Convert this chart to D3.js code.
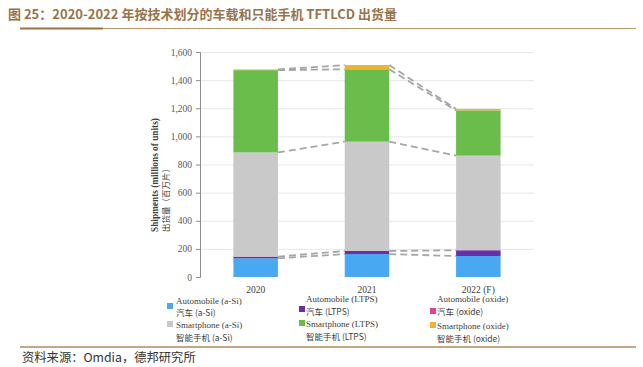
<!DOCTYPE html>
<html>
<head>
<meta charset="utf-8">
<script src="https://cdn.jsdelivr.net/npm/d3@7"></script>
<style>
  body { margin: 0; background: #fff; }
  svg { display: block; }
</style>
</head>
<body>
<div id="chart"></div>
<script>
// Set dimensions
const width = 643,
    height = 367;

// Data (millions of units)
const years = ["2020", "2021", "2022 (F)"];
const autoASi = [133, 163, 149];
const autoLTPS = [12, 22, 41];
const autoOxide = [0, 0, 1];
const phoneASi = [741, 777, 672];
const phoneLTPS = [585, 515, 322];
const phoneOxide = [5, 30, 10];
const yTicks = [0, 200, 400, 600, 800, 1000, 1200, 1400, 1600];

const seriesNames = ["autoASi", "autoLTPS", "autoOxide", "phoneASi", "phoneLTPS", "phoneOxide"];
const seriesData = { autoASi, autoLTPS, autoOxide, phoneASi, phoneLTPS, phoneOxide };
const colors = {
    autoASi: "#48a8f2",
    autoLTPS: "#6a2fa6",
    autoOxide: "#e2418d",
    phoneASi: "#c9c9c9",
    phoneLTPS: "#6abd4b",
    phoneOxide: "#f0b330",
};

const rows = years.map((y, i) => {
    const r = { year: y };
    seriesNames.forEach((k) => (r[k] = seriesData[k][i]));
    return r;
});

const svg = d3
    .select("#chart")
    .append("svg")
    .attr("width", width)
    .attr("height", height);

const serif = "'Liberation Serif', 'Times New Roman', serif";
const cjk = "'Noto Sans CJK SC', sans-serif";

// Title + rules
svg.append("text")
    .attr("x", 8)
    .attr("y", 19)
    .attr("fill", "#98734a")
    .attr("font-family", "'Noto Sans CJK SC', 'Liberation Sans', sans-serif")
    .attr("font-weight", "bold")
    .attr("font-size", 13)
    .text("图 25：2020-2022 年按技术划分的车载和只能手机 TFTLCD 出货量");

svg.append("line")
    .attr("x1", 20).attr("x2", 636).attr("y1", 28.5).attr("y2", 28.5)
    .attr("stroke", "#b8976c").attr("stroke-width", 1);
svg.append("line")
    .attr("x1", 20).attr("x2", 103).attr("y1", 28.5).attr("y2", 28.5)
    .attr("stroke", "#9a7448").attr("stroke-width", 2);
svg.append("line")
    .attr("x1", 20).attr("x2", 636).attr("y1", 347).attr("y2", 347)
    .attr("stroke", "#b08a5c").attr("stroke-width", 1.5);

svg.append("text")
    .attr("x", 22)
    .attr("y", 362)
    .attr("fill", "#333")
    .attr("font-family", cjk)
    .attr("font-size", 12.3)
    .text("资料来源：Omdia，德邦研究所");

// Scales
const x = d3.scaleBand().domain(years).range([200, 534]).paddingInner(0.6).paddingOuter(0.3);
const y = d3.scaleLinear().domain([0, 1600]).range([277, 52]);

// Gridlines
svg.append("g")
    .selectAll("line")
    .data(yTicks.slice(1))
    .join("line")
    .attr("x1", 200)
    .attr("x2", 534)
    .attr("y1", (d) => y(d) + 0.5)
    .attr("y2", (d) => y(d) + 0.5)
    .attr("stroke", "#e6e6e6");

// Stacked bars
const stack = d3.stack().keys(seriesNames)(rows);

svg.append("g")
    .selectAll("g")
    .data(stack)
    .join("g")
    .attr("fill", (d) => colors[d.key])
    .selectAll("rect")
    .data((d) => d)
    .join("rect")
    .attr("x", (d) => x(d.data.year))
    .attr("width", x.bandwidth())
    .attr("y", (d) => y(d[1]))
    .attr("height", (d) => y(d[0]) - y(d[1]));

// Dashed connectors between segment tops
const connectors = [];
stack.forEach((s) => {
    if (s.key === "autoOxide") return;
    for (let i = 0; i < years.length - 1; i++) {
        connectors.push({
            x1: x(years[i]) + x.bandwidth(),
            x2: x(years[i + 1]),
            v1: s[i][1],
            v2: s[i + 1][1],
        });
    }
});
svg.append("g")
    .selectAll("line")
    .data(connectors)
    .join("line")
    .attr("x1", (d) => d.x1)
    .attr("x2", (d) => d.x2)
    .attr("y1", (d) => y(d.v1))
    .attr("y2", (d) => y(d.v2))
    .attr("stroke", "#a6a6a6")
    .attr("stroke-width", 1.8)
    .attr("stroke-dasharray", "7,4");

// Y axis
const yAxis = svg.append("g")
    .attr("transform", "translate(200,0)")
    .call(d3.axisLeft(y).tickValues(yTicks).tickFormat(d3.format(",")).tickSize(4).tickPadding(4));
yAxis.select(".domain").attr("stroke", "#8c8c8c");
yAxis.selectAll(".tick line").attr("stroke", "#8c8c8c");
yAxis.selectAll("text")
    .attr("fill", "#595959")
    .attr("font-family", serif)
    .attr("font-size", 9.5);

// X axis labels
svg.append("g")
    .selectAll("text")
    .data(years)
    .join("text")
    .attr("x", (d) => x(d) + x.bandwidth() / 2)
    .attr("y", 293)
    .attr("text-anchor", "middle")
    .attr("fill", "#404040")
    .attr("font-family", serif)
    .attr("font-size", 9.5)
    .text((d) => d);

// Y axis title
svg.append("text")
    .attr("transform", "translate(158,232) rotate(-90)")
    .attr("fill", "#404040")
    .attr("font-family", serif)
    .attr("font-weight", "bold")
    .attr("font-size", 9.3)
    .text("Shipments (millions of units)");
svg.append("text")
    .attr("transform", "translate(169,232) rotate(-90)")
    .attr("fill", "#404040")
    .attr("font-family", cjk)
    .attr("font-size", 8.5)
    .text("出货量（百万片）");

// Legend
const legendItems = [
    { key: "autoASi", sx: 167, sy: 306, tx: 176, lines: [["Automobile (a-Si)", 301], ["汽车 (a-Si)", 313]] },
    { key: "phoneASi", sx: 167, sy: 324, tx: 176, lines: [["Smartphone (a-Si)", 325], ["智能手机 (a-Si)", 338]] },
    { key: "autoLTPS", sx: 299, sy: 309, tx: 306, lines: [["Automobile (LTPS)", 299], ["汽车 (LTPS)", 312]] },
    { key: "phoneLTPS", sx: 299, sy: 323, tx: 306, lines: [["Smartphone (LTPS)", 324], ["智能手机 (LTPS)", 337]] },
    { key: "autoOxide", sx: 430, sy: 311, tx: 437, lines: [["Automobile (oxide)", 299], ["汽车 (oxide)", 312]] },
    { key: "phoneOxide", sx: 430, sy: 325, tx: 437, lines: [["Smartphone (oxide)", 326], ["智能手机 (oxide)", 339]] },
];

const lg = svg.append("g")
    .selectAll("g")
    .data(legendItems)
    .join("g");

lg.append("rect")
    .attr("x", (d) => d.sx)
    .attr("y", (d) => d.sy - 3)
    .attr("width", 6)
    .attr("height", 6)
    .attr("fill", (d) => colors[d.key]);

lg.selectAll("text")
    .data((d) => d.lines.map((l) => ({ t: l[0], y: l[1], x: d.tx })))
    .join("text")
    .attr("x", (d) => d.x)
    .attr("y", (d) => d.y + 3)
    .attr("fill", "#404040")
    .attr("font-family", (d) => (/[\u4e00-\u9fff]/.test(d.t) ? cjk : serif))
    .attr("font-size", (d) => (/[\u4e00-\u9fff]/.test(d.t) ? 8.5 : 9))
    .text((d) => d.t);
</script>
</body>
</html>
